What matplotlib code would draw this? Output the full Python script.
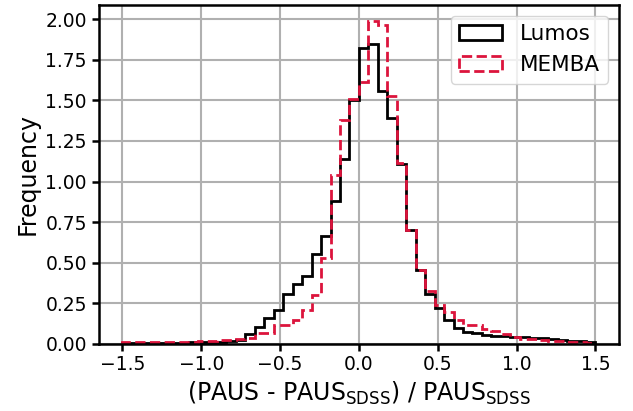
import numpy as np
import matplotlib
matplotlib.use("Agg")
import matplotlib.pyplot as plt

# Bin edges: 50 bins of width 0.06 between -1.5 and 1.5
bin_edges = np.linspace(-1.5, 1.5, 51)
bin_centers = 0.5 * (bin_edges[:-1] + bin_edges[1:])

# Bin heights (normalised frequency)
lumos = [0.002, 0.003, 0.003, 0.004, 0.004, 0.005, 0.006, 0.007, 0.009, 0.010,
         0.012, 0.014, 0.022, 0.062, 0.103, 0.158, 0.210, 0.308, 0.366, 0.415,
         0.551, 0.662, 0.880, 1.140, 1.500, 1.823, 1.850, 1.558, 1.390, 1.110,
         0.703, 0.452, 0.308, 0.222, 0.144, 0.099, 0.074, 0.066, 0.055, 0.049,
         0.045, 0.041, 0.038, 0.035, 0.032, 0.028, 0.024, 0.019, 0.014, 0.008]
memba = [0.008, 0.008, 0.008, 0.008, 0.008, 0.008, 0.008, 0.010, 0.014, 0.018,
         0.022, 0.025, 0.028, 0.035, 0.068, 0.068, 0.113, 0.113, 0.148, 0.206,
         0.298, 0.528, 1.042, 1.377, 1.507, 1.614, 1.990, 1.963, 1.530, 1.114,
         0.703, 0.456, 0.325, 0.236, 0.195, 0.148, 0.113, 0.113, 0.092, 0.078,
         0.058, 0.041, 0.031, 0.027, 0.023, 0.019, 0.015, 0.011, 0.008, 0.006]

fig, ax = plt.subplots(figsize=(6.33, 4.11), dpi=100)
fig.subplots_adjust(left=0.156, right=0.978, top=0.988, bottom=0.164)

ax.hist(bin_centers, bins=bin_edges, weights=lumos, histtype="step",
        color="black", linewidth=2, label="Lumos")
ax.hist(bin_centers, bins=bin_edges, weights=memba, histtype="step",
        color="crimson", linewidth=2, linestyle="--", label="MEMBA")

ax.set_xticks([-1.5, -1.0, -0.5, 0.0, 0.5, 1.0, 1.5])
ax.set_yticks(np.arange(0, 2.01, 0.25))
ax.yaxis.set_major_formatter(matplotlib.ticker.FormatStrFormatter("%.2f"))
ax.grid(True, color="#b0b0b0", linewidth=1.5)
ax.set_axisbelow(True)

for sp in ax.spines.values():
    sp.set_linewidth(1.8)
ax.tick_params(labelsize=13.5, width=1.8, length=5)

ax.set_xlabel(r"(PAUS - PAUS$_{\mathregular{SDSS}}$) / PAUS$_{\mathregular{SDSS}}$", fontsize=17)
ax.set_ylabel("Frequency", fontsize=17)
ax.legend(loc="upper right", fontsize=15.5)

fig.savefig("out.png", dpi=100)
